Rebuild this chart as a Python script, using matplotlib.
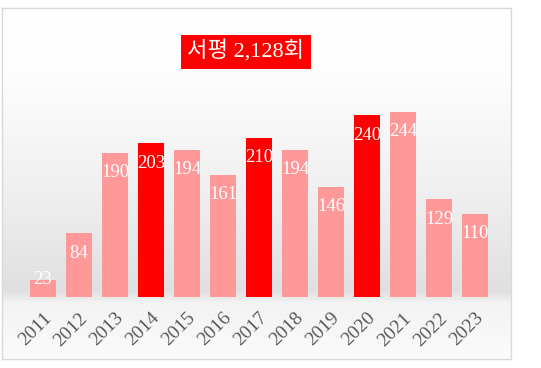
import numpy as np
import matplotlib
matplotlib.use("Agg")
import matplotlib.pyplot as plt
from matplotlib.colors import LinearSegmentedColormap

years = ["2011", "2012", "2013", "2014", "2015", "2016", "2017",
         "2018", "2019", "2020", "2021", "2022", "2023"]
reviews = [23, 84, 190, 203, 194, 161, 210, 194, 146, 240, 244, 129, 110]
highlight = ["2014", "2017", "2020"]
title = "서평 2,128회"

W, H = 541, 368
fig = plt.figure(figsize=(W / 100, H / 100), dpi=100)

# background frame with soft gradient
bg = fig.add_axes([2 / W, 1 - 359 / H, 509 / W, 351 / H], zorder=0)
stops = [(0.0, "#fbfbfb"), (0.16, "#f3f3f3"), (0.19, "#e0e0e0"),
         (0.45, "#eeeeee"), (0.8, "#fdfdfd"), (1.0, "#ffffff")]
cmap = LinearSegmentedColormap.from_list("bg", stops)
grad = np.linspace(0, 1, 256).reshape(-1, 1)
bg.imshow(grad, aspect="auto", cmap=cmap, origin="lower", extent=[0, 1, 0, 1])
bg.set_xlim(0, 1)
bg.set_ylim(0, 1)
bg.set_xticks([])
bg.set_yticks([])
for s in bg.spines.values():
    s.set_color("#d9d9d9")
    s.set_linewidth(1)

ax = fig.add_axes([25 / W, 1 - 297 / H, 468 / W, 227 / H], zorder=1)
ax.patch.set_alpha(0)
x = np.arange(len(years))
colors = ["#ff0000" if y in highlight else "#ff9999" for y in years]
ax.bar(x, reviews, width=0.72, color=colors)
ax.set_xlim(-0.5, len(years) - 0.5)
ax.set_ylim(0, 300)

for xi, v in zip(x, reviews):
    if v < 40:
        ax.text(xi, v, str(v), ha="center", va="center", color="white",
                fontsize=13.5, family="Liberation Serif")
    else:
        ax.annotate(str(v), (xi, v), xytext=(0, -8), textcoords="offset points",
                    ha="center", va="top", color="white",
                    fontsize=13.5, family="Liberation Serif")

ax.set_xticks(x)
ax.set_xticklabels(years, rotation=45, ha="right", rotation_mode="anchor",
                   fontsize=14, family="Liberation Serif", color="#595959")
ax.tick_params(axis="x", length=0, pad=9)
ax.set_yticks([])
for s in ax.spines.values():
    s.set_visible(False)

fig.text(246 / W, 1 - 52 / H, title, ha="center", va="center", color="white",
         fontsize=16, family=["Liberation Serif", "Noto Sans CJK KR"],
         bbox=dict(boxstyle="square,pad=0.28", facecolor="#ff0000", edgecolor="none"),
         zorder=3)

fig.savefig("out.png", dpi=100, facecolor="white")
